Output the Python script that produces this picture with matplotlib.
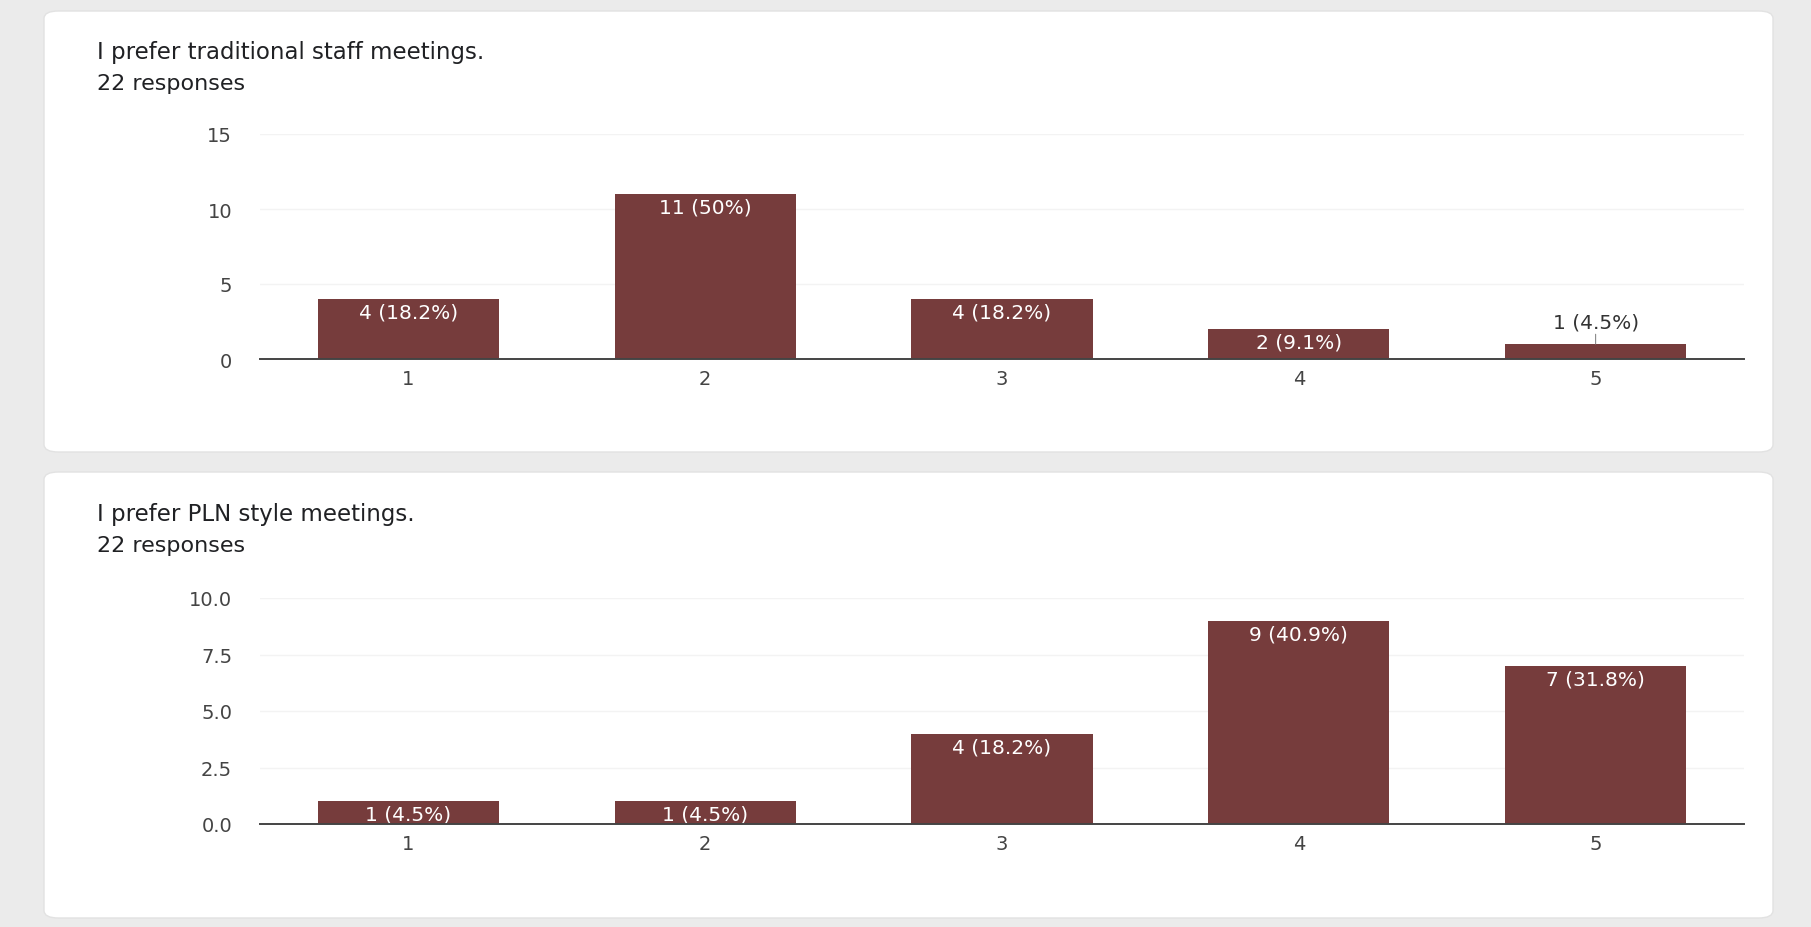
import numpy as np
import matplotlib.pyplot as plt
from matplotlib.patches import FancyBboxPatch

plt.rcParams['font.family'] = ['DejaVu Sans']

# survey answers (scale 1-5), 22 responses each
scale = [1, 2, 3, 4, 5]
trad_counts = [4, 11, 4, 2, 1]
trad_labels = ["4 (18.2%)", "11 (50%)", "4 (18.2%)", "2 (9.1%)", "1 (4.5%)"]
pln_counts = [1, 1, 4, 9, 7]
pln_labels = ["1 (4.5%)", "1 (4.5%)", "4 (18.2%)", "9 (40.9%)", "7 (31.8%)"]

titles = ["I prefer traditional staff meetings.", "I prefer PLN style meetings."]
subtitle = "22 responses"

bar_col = "#763c3c"
W, H = 1811, 928

fig = plt.figure(figsize=(W/100, H/100), dpi=100)
fig.patch.set_facecolor("#ebebeb")

def px(x, y):
    # pixel (from top-left) -> figure fraction
    return x/W, 1 - y/H

# white cards
for (y0, y1) in [(12, 453), (473, 919)]:
    x0, yb = px(44, y1)
    x1, yt = px(1773, y0)
    card = FancyBboxPatch((x0, yb), x1-x0, yt-yb, boxstyle="round,pad=0,rounding_size=0.008",
                          transform=fig.transFigure, facecolor="white", edgecolor="#e2e2e2",
                          linewidth=1, zorder=-1)
    fig.patches.append(card)

def panel(rect, counts, labels, ymax, yticks, yfmt, title, title_y):
    ax = fig.add_axes(rect)
    ax.bar(scale, counts, width=0.61, color=bar_col, zorder=3)
    ax.set_xlim(0.5, 5.5)
    ax.set_ylim(0, ymax)
    ax.set_yticks(yticks)
    ax.set_yticklabels([yfmt.format(t) for t in yticks])
    ax.set_xticks(scale)
    ax.set_xticklabels([str(s) for s in scale])
    for s in ["top", "right", "left"]:
        ax.spines[s].set_visible(False)
    ax.spines["bottom"].set_color("#444444")
    ax.spines["bottom"].set_linewidth(1.4)
    ax.spines["bottom"].set_zorder(5)
    ax.tick_params(axis="both", length=0, labelsize=14, colors="#444444")
    ax.tick_params(axis="x", pad=7)
    ax.tick_params(axis="y", pad=20)
    ax.yaxis.grid(True, color="#f3f3f3", linewidth=1, zorder=0)
    ax.set_facecolor("none")
    for x, c, lab in zip(scale, counts, labels):
        if c / ymax > 0.08:
            ax.annotate(lab, (x, c), xytext=(0, -2.5), textcoords="offset points",
                        ha="center", va="top", color="white", fontsize=14.5, zorder=4)
        else:
            ax.annotate(lab, (x, c), xytext=(0, 9), textcoords="offset points",
                        ha="center", va="bottom", color="#333333", fontsize=14.5, zorder=4,
                        arrowprops=dict(arrowstyle="-", color="#888888", lw=0.8,
                                        shrinkA=0, shrinkB=0))
    tx, ty = px(97, title_y)
    fig.text(tx, ty, title, fontsize=16.5, color="#202124", va="center")
    sx, sy = px(97, title_y + 31)
    fig.text(sx, sy, subtitle, fontsize=16, color="#202124", va="center")
    return ax

panel([260/W, 1 - 360/H, (1744-260)/W, (360-135)/H], trad_counts, trad_labels,
      15, [0, 5, 10, 15], "{:g}", titles[0], 53)
panel([260/W, 1 - 825/H, (1744-260)/W, (825-599)/H], pln_counts, pln_labels,
      10, [0, 2.5, 5, 7.5, 10], "{:.1f}", titles[1], 515)

plt.savefig("out.png", dpi=100, facecolor=fig.get_facecolor())
